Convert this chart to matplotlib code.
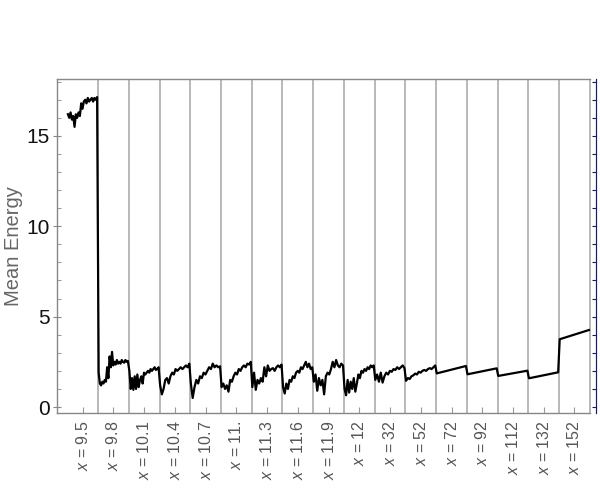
import numpy as np
import matplotlib
matplotlib.use("Agg")
import matplotlib.pyplot as plt

plt.rcParams['font.family'] = ['Liberation Sans', 'DejaVu Sans']
plt.rcParams['mathtext.fontset'] = 'custom'
plt.rcParams['mathtext.it'] = 'Liberation Sans:italic'
plt.rcParams['mathtext.rm'] = 'Liberation Sans'

# tick labels (one per block)
x_values = ["9.5", "9.8", "10.1", "10.4", "10.7", "11.", "11.3", "11.6", "11.9",
            "12", "32", "52", "72", "92", "112", "132", "152"]

e0 = [16.2, 16.0, 16.3, 15.9, 16.1, 15.5, 16.2, 16.0, 16.3, 16.1, 16.8, 16.5,
      16.9, 17.0, 16.8, 17.1, 16.9, 17.0, 17.1, 16.9, 17.1, 17.0, 17.15]
e1 = [1.9, 1.3, 1.2, 1.4, 1.3, 1.5, 1.4, 2.2, 1.6, 2.8, 2.2, 3.05, 2.3, 2.5,
      2.35, 2.6, 2.4, 2.5, 2.4, 2.6, 2.5, 2.45, 2.6, 2.5, 2.55]
e2 = [2.0, 1.0, 1.6, 0.95, 1.7, 1.0, 1.8, 1.1, 1.5, 1.7, 1.3, 1.9, 1.8, 1.9,
      2.0, 1.9, 2.1, 2.0, 2.1, 2.2, 2.05, 2.1, 2.2]
e3 = [1.2, 0.7, 1.0, 1.5, 1.6, 1.3, 1.7, 1.9, 1.8, 2.1, 2.0, 2.1, 2.2, 2.1,
      2.2, 2.3, 2.2, 2.4]
e4 = [1.3, 0.5, 1.1, 1.5, 1.3, 1.7, 1.6, 1.9, 1.8, 2.0, 2.2, 2.1, 2.4, 2.2,
      2.3, 2.2, 2.25]
e5 = [1.1, 1.3, 1.0, 1.2, 0.85, 1.5, 1.4, 1.7, 1.9, 1.8, 2.1, 2.0, 2.2, 2.3,
      2.2, 2.4, 2.35, 2.5]
e6 = [1.1, 1.9, 0.95, 1.5, 1.3, 1.6, 1.4, 2.2, 1.7, 2.3, 2.0, 2.1, 2.15, 2.0,
      2.2, 2.3, 2.2, 2.35]
e7 = [1.1, 0.75, 1.3, 1.0, 1.5, 1.4, 1.7, 1.6, 1.9, 2.0, 1.9, 2.2, 2.1, 2.3,
      2.5, 2.2, 2.4, 2.1, 2.2]
e8 = [1.4, 1.8, 0.9, 1.6, 1.2, 1.5, 0.7, 1.7, 1.9, 1.8, 2.1, 2.5, 2.2, 2.6,
      2.3, 2.2, 2.4, 2.3]
e9 = [1.0, 0.65, 1.5, 0.8, 1.4, 1.0, 1.6, 0.85, 1.3, 1.8, 1.6, 2.0, 1.9, 2.1,
      2.0, 2.2, 2.1, 2.3, 2.2, 2.3]
e10 = [1.5, 1.8, 1.4, 1.9, 1.35, 1.7, 1.9, 1.8, 2.0, 1.95, 2.1, 2.05, 2.2, 2.1,
       2.2, 2.3, 2.15]
e11 = [1.45, 1.6, 1.55, 1.7, 1.75, 1.85, 1.8, 1.95, 1.9, 2.0, 2.05, 2.0, 2.1,
       2.15, 2.1, 2.2, 2.3]
e12 = [1.86, 2.27]
e13 = [1.81, 2.14]
e14 = [1.72, 2.01]
e15 = [1.59, 1.92]
e16 = [3.75, 4.26]

segments = [e0, e1, e2, e3, e4, e5, e6, e7, e8, e9, e10, e11, e12, e13, e14, e15, e16]

xs, ys = [], []
for i, seg in enumerate(segments):
    xs.extend(np.linspace(i + 0.02, i + 0.97, len(seg)))
    ys.extend(seg)

fig = plt.figure(figsize=(6, 5.04), dpi=100)
ax = fig.add_axes([0.095, 0.1806, 0.8983, 0.6627])

for i in range(1, len(segments) + 1):
    ax.axvline(i, color='#a6a6a6', lw=1.1, zorder=1)

ax.plot(xs, ys, color='black', lw=1.6, zorder=3)

ax.set_xlim(-0.335, 17.2)
ax.set_ylim(-0.33, 18.15)

ax.set_xticks(np.arange(len(x_values)) + 0.5)
ax.set_xticklabels([r"$x$ = " + v for v in x_values], rotation=90,
                   fontsize=11.5, color='#555555', va='top')
ax.tick_params(axis='x', direction='in', length=4, color='#999999', pad=5.5)

ax.set_yticks([0, 5, 10, 15])
ax.set_yticks(np.arange(0, 19, 1), minor=True)
ax.tick_params(axis='y', which='major', direction='inout', length=6,
               color='#888888', labelsize=15, labelcolor='#111111', pad=2)
ax.tick_params(axis='y', which='minor', direction='in', length=3, color='#888888')

for s in ['left', 'top', 'bottom']:
    ax.spines[s].set_color('#888888')
    ax.spines[s].set_linewidth(1.0)
ax.spines['top'].set_bounds(-0.335, 17)
ax.spines['bottom'].set_bounds(-0.335, 17)
ax.spines['right'].set_color('#1a1a66')
ax.spines['right'].set_linewidth(0.8)

# navy ticks on the right frame
rax = ax.secondary_yaxis('right')
rax.set_yticks(np.arange(0, 19, 1))
rax.set_yticklabels([])
rax.tick_params(direction='in', length=3, color='#1a1a66', width=0.8)
rax.spines['right'].set_color('#1a1a66')

ax.set_ylabel("Mean Energy", fontsize=14.5, color='#666666')
ax.yaxis.set_label_coords(-0.064, 0.5)

fig.savefig("out.png", dpi=100)
